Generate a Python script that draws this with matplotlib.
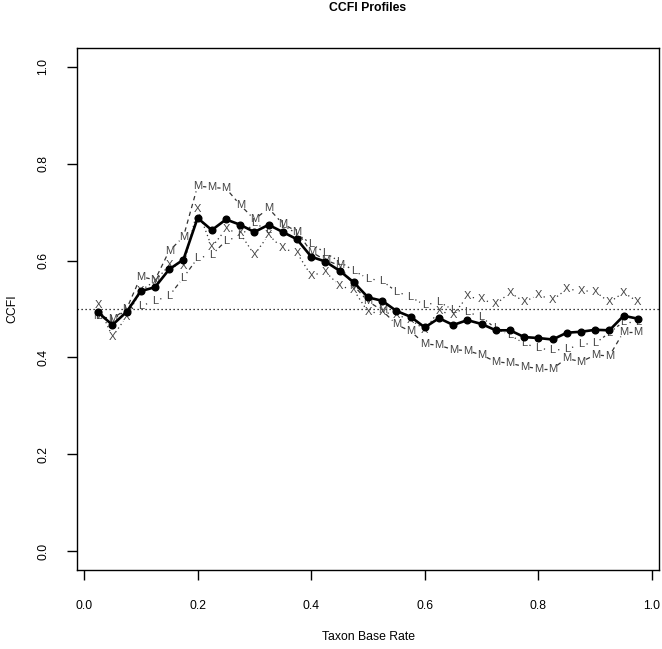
import numpy as np
import matplotlib
matplotlib.use("Agg")
from matplotlib import pyplot as plt

plt.rcParams['font.family'] = ['Liberation Sans', 'DejaVu Sans']

# taxon base rates
base_rate = [0.025, 0.05, 0.075, 0.1, 0.125, 0.15, 0.175, 0.2, 0.225, 0.25,
             0.275, 0.3, 0.325, 0.35, 0.375, 0.4, 0.425, 0.45, 0.475, 0.5,
             0.525, 0.55, 0.575, 0.6, 0.625, 0.65, 0.675, 0.7, 0.725, 0.75,
             0.775, 0.8, 0.825, 0.85, 0.875, 0.9, 0.925, 0.95, 0.975]

# M profile (dashed)
ccfi_m = [0.485, 0.480, 0.500, 0.567, 0.560, 0.620, 0.649, 0.754, 0.751, 0.749,
          0.715, 0.685, 0.708, 0.676, 0.660, 0.618, 0.601, 0.590, 0.548, 0.516,
          0.497, 0.468, 0.454, 0.428, 0.425, 0.416, 0.414, 0.405, 0.391, 0.388,
          0.381, 0.377, 0.377, 0.398, 0.391, 0.405, 0.403, 0.453, 0.453]

# L profile (dot-dash)
ccfi_l = [0.486, 0.478, 0.498, 0.506, 0.517, 0.527, 0.565, 0.605, 0.612, 0.641,
          0.651, 0.677, 0.663, 0.674, 0.655, 0.635, 0.616, 0.598, 0.579, 0.563,
          0.558, 0.536, 0.525, 0.508, 0.515, 0.498, 0.494, 0.483, 0.460, 0.446,
          0.429, 0.419, 0.415, 0.417, 0.427, 0.429, 0.451, 0.474, 0.474]

# X profile (dotted)
ccfi_x = [0.508, 0.443, 0.484, 0.538, 0.558, 0.590, 0.588, 0.706, 0.628, 0.665,
          0.656, 0.612, 0.653, 0.625, 0.616, 0.569, 0.577, 0.548, 0.539, 0.494,
          0.494, 0.488, 0.478, 0.457, 0.496, 0.488, 0.526, 0.520, 0.510, 0.534,
          0.515, 0.529, 0.519, 0.541, 0.538, 0.536, 0.514, 0.534, 0.515]

# averaged profile (solid)
ccfi_mean = [0.493, 0.467, 0.494, 0.537, 0.545, 0.582, 0.602, 0.688, 0.663, 0.685,
             0.674, 0.659, 0.674, 0.659, 0.644, 0.608, 0.598, 0.579, 0.555, 0.524,
             0.517, 0.496, 0.484, 0.462, 0.481, 0.467, 0.477, 0.469, 0.456, 0.456,
             0.442, 0.440, 0.437, 0.451, 0.453, 0.457, 0.456, 0.486, 0.480]

y_ticks = [0.0, 0.2, 0.4, 0.6, 0.8, 1.0]
x_ticks = [0.0, 0.2, 0.4, 0.6, 0.8, 1.0]

W, H = 662, 649
fig = plt.figure(figsize=(W / 100, H / 100), dpi=100)
left, right, top, bottom = 76.6, 659.4, 47.6, 570.4
ax = fig.add_axes([left / W, (H - bottom) / H, (right - left) / W, (bottom - top) / H])

ax.set_xlim(-0.038 + 0.025, 0.975 + 0.038)
ax.set_ylim(-0.04, 1.04)

for s in ax.spines.values():
    s.set_linewidth(1.0)
    s.set_color('black')

ax.set_xticks(x_ticks)
ax.set_xticklabels(['%.1f' % v for v in x_ticks])
ax.set_yticks(y_ticks)
ax.set_yticklabels(['%.1f' % v for v in y_ticks], rotation=90, va='center')
ax.tick_params(direction='out', length=7, width=1, labelsize=8.8,
               colors='black')
ax.tick_params(axis='x', pad=14.5)
ax.tick_params(axis='y', pad=12.5)

# reference line
ax.axhline(0.5, color='black', lw=0.9, ls=(0, (1, 2.2)))


def gapped(xs, ys, gap, **kw):
    # R type="b": segments stop short of each point
    pts = ax.transData.transform(np.column_stack([xs, ys]))
    inv = ax.transData.inverted()
    for p0, p1 in zip(pts[:-1], pts[1:]):
        d = p1 - p0
        n = np.hypot(*d)
        if n <= 2 * gap:
            continue
        u = d / n
        a = inv.transform(p0 + u * gap)
        b = inv.transform(p1 - u * gap)
        ax.plot([a[0], b[0]], [a[1], b[1]], **kw)


profiles = [
    (ccfi_m, 'M', (0, (3.5, 3))),
    (ccfi_l, 'L', (0, (1, 2.5, 3.5, 2.5))),
    (ccfi_x, 'X', (0, (1, 2.5))),
]
for vals, letter, dash in profiles:
    gapped(base_rate, vals, 5.5, color='#333333', lw=0.9, ls=dash)
    for bx, v in zip(base_rate, vals):
        ax.text(bx, v, letter, fontsize=8, color='#444444', ha='center',
                va='center')

ax.plot(base_rate, ccfi_mean, color='black', lw=1.9, marker='o', ms=4.8,
        zorder=5)

fig.text(368 / W, 1 - 8 / H, 'CCFI Profiles', ha='center', va='center',
         fontsize=8.8, fontweight='bold')
fig.text(368 / W, 1 - 637 / H, 'Taxon Base Rate', ha='center', va='center',
         fontsize=8.8)
fig.text(12 / W, 1 - 309 / H, 'CCFI', ha='center', va='center', rotation=90,
         fontsize=8.8)

fig.savefig('out.png', dpi=100)
